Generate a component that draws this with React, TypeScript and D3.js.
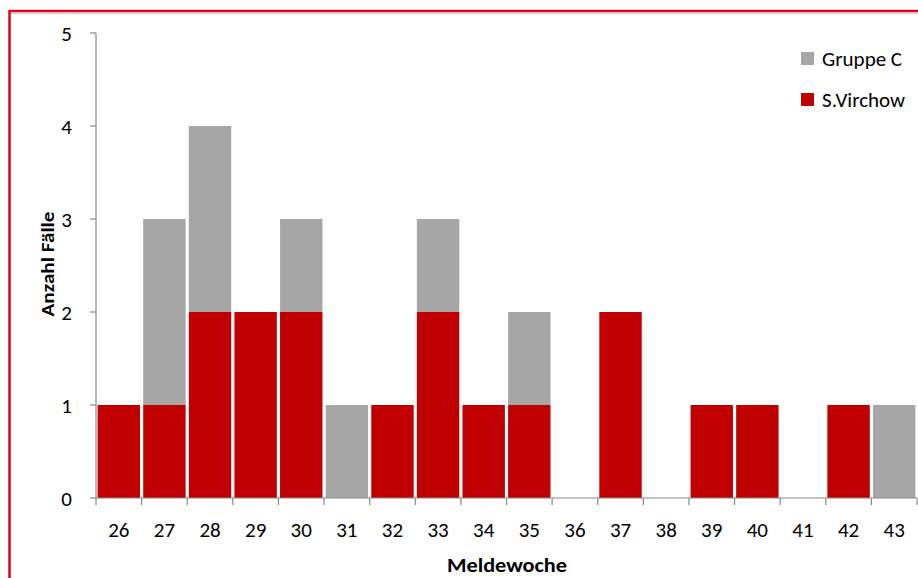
import React from "react";
import * as d3 from "d3";

const weeks = ["26","27","28","29","30","31","32","33","34","35","36","37","38","39","40","41","42","43"];
const virchow = [1,1,2,2,2,0,1,2,1,1,0,2,0,1,1,0,1,0];
const gruppeC = [0,2,2,0,1,1,0,1,0,1,0,0,0,0,0,0,0,1];
const yTicks = [0,1,2,3,4,5];
const seriesNames = ["Gruppe C", "S.Virchow"];
const seriesColors = ["#A6A6A6", "#C00000"];

const W = 918, H = 578;
const left = 96, right = 917, top = 33, bottom = 498;
const font = "Carlito, Lato, 'Open Sans', sans-serif";

export default function App() {
  const x = d3.scaleBand<string>().domain(weeks).range([left, right]).paddingInner(0.07).paddingOuter(0.035);
  const y = d3.scaleLinear().domain([0, 5]).range([bottom, top]);
  const step = (right - left) / weeks.length;

  const rows = weeks.map((w, i) => ({ week: w, virchow: virchow[i], gruppeC: gruppeC[i] }));
  const stack = d3.stack<any>().keys(["virchow", "gruppeC"])(rows);

  return (
    <svg width={W} height={H} style={{ position: "absolute", left: 0, top: 0, display: "block" }}>
      <rect x={0} y={0} width={W} height={H} fill="#fff" />
      {/* frame */}
      <line x1={9} y1={11} x2={W} y2={11} stroke="#E2001A" strokeWidth={2.5} />
      <line x1={11} y1={13.5} x2={W} y2={13.5} stroke="#C8C8C8" strokeWidth={1} />
      <line x1={9.5} y1={10} x2={9.5} y2={H} stroke="#E2001A" strokeWidth={2.5} />

      {/* bars */}
      {stack.map((layer, li) => (
        <g key={li} fill={li === 0 ? seriesColors[1] : seriesColors[0]}>
          {layer.map((d, i) =>
            d[1] - d[0] > 0 ? (
              <rect key={i} x={x(weeks[i])} width={x.bandwidth()} y={y(d[1])} height={y(d[0]) - y(d[1])} />
            ) : null
          )}
        </g>
      ))}

      {/* y axis */}
      <line x1={left} y1={top} x2={left} y2={bottom} stroke="#888" strokeWidth={1.2} />
      {yTicks.map((t) => (
        <g key={t}>
          <line x1={left - 6} x2={left} y1={y(t)} y2={y(t)} stroke="#888" strokeWidth={1.2} />
          <text x={72} y={y(t)} dy="0.36em" textAnchor="end" fontFamily={font} fontSize={21} fill="#000">{t}</text>
        </g>
      ))}

      {/* x axis */}
      <line x1={left} y1={bottom} x2={right} y2={bottom} stroke="#888" strokeWidth={1.2} />
      {d3.range(weeks.length + 1).map((i) => (
        <line key={i} x1={left + i * step} x2={left + i * step} y1={bottom} y2={bottom + 7} stroke="#888" strokeWidth={1.2} />
      ))}
      {weeks.map((w) => (
        <text key={w} x={(x(w) as number) + x.bandwidth() / 2} y={537} textAnchor="middle" fontFamily={font} fontSize={21} fill="#000">{w}</text>
      ))}

      <text x={507} y={572} textAnchor="middle" fontFamily={font} fontSize={20} fontWeight="bold" fill="#000" textLength={120} lengthAdjust="spacingAndGlyphs">Meldewoche</text>
      <text transform={`translate(54,264) rotate(-90)`} textAnchor="middle" fontFamily={font} fontSize={19} fontWeight="bold" fill="#000" textLength={105} lengthAdjust="spacingAndGlyphs">Anzahl Fälle</text>

      {/* legend */}
      {seriesNames.map((n, i) => (
        <g key={n} transform={`translate(801,${52 + i * 41})`}>
          <rect width={13} height={13} fill={seriesColors[i]} />
          <text x={21} y={6.5} dy="0.36em" fontFamily={font} fontSize={21} fill="#000">{n}</text>
        </g>
      ))}
    </svg>
  );
}
